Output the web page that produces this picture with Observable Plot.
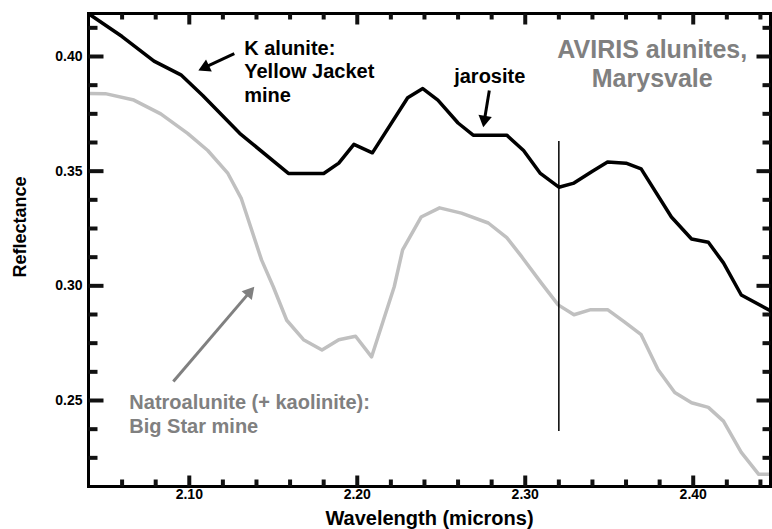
<!DOCTYPE html>
<html><head><meta charset="utf-8">
<script src="https://cdn.jsdelivr.net/npm/d3@7"></script>
<script src="https://cdn.jsdelivr.net/npm/@observablehq/plot@0.6"></script>
<style>body{margin:0;background:#fff}</style>
</head><body><div id="chart"></div>
<script>
// K alunite: Yellow Jacket mine (black)
const kWave = [2.040, 2.060, 2.079, 2.095, 2.108, 2.130, 2.159, 2.180, 2.189, 2.198, 2.209, 2.230, 2.239, 2.248, 2.260, 2.269, 2.289, 2.299, 2.309, 2.320, 2.329, 2.340, 2.349, 2.360, 2.369, 2.387, 2.399, 2.409, 2.418, 2.4286, 2.447];
const kRefl = [0.4187, 0.4087, 0.398, 0.392, 0.383, 0.3665, 0.349, 0.349, 0.3535, 0.3617, 0.358, 0.382, 0.386, 0.381, 0.371, 0.3657, 0.3657, 0.359, 0.349, 0.343, 0.3448, 0.350, 0.354, 0.3535, 0.351, 0.330, 0.3204, 0.319, 0.310, 0.296, 0.2887];
// Natroalunite (+ kaolinite): Big Star mine (grey)
const naWave = [2.040, 2.050, 2.067, 2.083, 2.099, 2.111, 2.123, 2.131, 2.143, 2.150, 2.158, 2.168, 2.179, 2.189, 2.199, 2.2085, 2.222, 2.227, 2.238, 2.249, 2.262, 2.278, 2.289, 2.298, 2.3095, 2.3196, 2.329, 2.339, 2.349, 2.359, 2.369, 2.379, 2.389, 2.399, 2.409, 2.418, 2.4286, 2.439, 2.447];
const naRefl = [0.3839, 0.3838, 0.381, 0.375, 0.3665, 0.359, 0.349, 0.338, 0.3113, 0.2996, 0.285, 0.2765, 0.272, 0.2765, 0.278, 0.2690, 0.2996, 0.3157, 0.330, 0.334, 0.3317, 0.3274, 0.321, 0.3126, 0.3013, 0.2917, 0.2874, 0.2896, 0.2896, 0.2843, 0.2787, 0.2635, 0.2535, 0.249, 0.247, 0.241, 0.2274, 0.2178, 0.2178];

const xMajor = [2.10, 2.20, 2.30, 2.40];
const xMinor = [2.06, 2.08, 2.12, 2.14, 2.16, 2.18, 2.22, 2.24, 2.26, 2.28, 2.32, 2.34, 2.36, 2.38, 2.42, 2.44];
const yMajor = [0.25, 0.30, 0.35, 0.40];
const yMinor = [0.225, 0.2375, 0.2625, 0.275, 0.2875, 0.3125, 0.325, 0.3375, 0.3625, 0.375, 0.3875, 0.4125];

const xLabel = "Wavelength (microns)";
const yLabel = "Reflectance";
const titleText = ["AVIRIS alunites,\nMarysvale"];
const markerWave = [2.32];

// annotations (data coordinates)
const notes = [
  {x: 2.1327, y: 0.4083, text: "K alunite:\nYellow Jacket\nmine", color: "black"},
  {x: 2.2577, y: 0.3960, text: "jarosite", color: "black"},
  {x: 2.0643, y: 0.2539, text: "Natroalunite (+ kaolinite):\nBig Star mine", color: "#808080"}
];
const arrowsData = [
  {x1: 2.1268, y1: 0.4013, x2: 2.1054, y2: 0.3939, color: "black"},
  {x1: 2.2786, y1: 0.3852, x2: 2.2750, y2: 0.3691, color: "black"},
  {x1: 2.0905, y1: 0.2583, x2: 2.1387, y2: 0.2996, color: "#808080"}
];

const W = 772, H = 529, ml = 88, mr = 2, mt = 13, mb = 43;
const fw = W - ml - mr, fh = H - mt - mb;
const xDomain = [2.04, 2.446], yDomain = [0.2125, 0.41875];
const sx = Plot.scale({x: {domain: xDomain, range: [ml, W - mr]}});
const sy = Plot.scale({y: {domain: yDomain, range: [H - mb, mt]}});

const kData = kWave.map((w, i) => ({w, r: kRefl[i]}));
const naData = naWave.map((w, i) => ({w, r: naRefl[i]}));

// inward tick segments: pixel lengths converted to data units
const xLo = xDomain[0], xHi = xDomain[1], yLo = yDomain[0], yHi = yDomain[1];
const xPerPx = (xHi - xLo) / fw, yPerPx = (yHi - yLo) / fh;
const tickSegs = [];
for (const v of xMajor) { tickSegs.push({a: v, b: v, c: yLo, d: yLo + 11 * yPerPx}); tickSegs.push({a: v, b: v, c: yHi, d: yHi - 11 * yPerPx}); }
for (const v of xMinor) { tickSegs.push({a: v, b: v, c: yLo, d: yLo + 7 * yPerPx}); tickSegs.push({a: v, b: v, c: yHi, d: yHi - 6 * yPerPx}); }
for (const v of yMajor) { tickSegs.push({a: xLo, b: xLo + 15 * xPerPx, c: v, d: v}); tickSegs.push({a: xHi, b: xHi - 14 * xPerPx, c: v, d: v}); }
for (const v of yMinor) { tickSegs.push({a: xLo, b: xLo + 9 * xPerPx, c: v, d: v}); tickSegs.push({a: xHi, b: xHi - 8 * xPerPx, c: v, d: v}); }

// arrow heads as rotated triangles
const headR = 5;
const heads = arrowsData.map(a => {
  const px1 = sx.apply(a.x1), py1 = sy.apply(a.y1), px2 = sx.apply(a.x2), py2 = sy.apply(a.y2);
  const dx = px2 - px1, dy = py2 - py1, len = Math.hypot(dx, dy);
  const ux = dx / len, uy = dy / len;
  const yy = Math.sqrt(headR * headR * Math.PI / (Math.sqrt(3) * 3));
  const cx = px2 - ux * 2 * yy, cy = py2 - uy * 2 * yy;
  const bx = px2 - ux * 3 * yy, by = py2 - uy * 3 * yy;
  return {
    cx: sx.invert(cx), cy: sy.invert(cy),
    bx: sx.invert(bx + ux * 1), by: sy.invert(by + uy * 1),
    x1: a.x1, y1: a.y1,
    angle: Math.atan2(dy, dx) * 180 / Math.PI + 90,
    color: a.color
  };
});

const font = "'Liberation Sans', Arial, Helvetica, sans-serif";

const chart = Plot.plot({
  width: W, height: H,
  marginLeft: ml, marginRight: mr, marginTop: mt, marginBottom: mb,
  x: {domain: xDomain},
  y: {domain: yDomain},
  style: {fontFamily: font, fontSize: "14px", fontWeight: "bold", background: "white", color: "black"},
  marks: [
    // tick labels
    Plot.axisX({anchor: "bottom", ticks: xMajor, tickSize: 0, tickPadding: 3, tickFormat: d3.format(".2f"), label: null, fontSize: 14, fontWeight: "bold"}),
    Plot.axisY({anchor: "left", ticks: yMajor, tickSize: 0, tickPadding: 6, tickFormat: d3.format(".2f"), label: null, fontSize: 14, fontWeight: "bold"}),
    // axis titles
    Plot.text([xLabel], {frameAnchor: "bottom", text: d => d, lineAnchor: "top", dy: 24, fontSize: 20, fontWeight: "bold", fill: "black"}),
    Plot.text([yLabel], {frameAnchor: "left", text: d => d, rotate: -90, lineAnchor: "top", textAnchor: "middle", dx: -75, dy: -23, fontSize: 18, fontWeight: "bold", fill: "black"}),
    // data
    Plot.line(naData, {x: "w", y: "r", stroke: "#c0c0c0", strokeWidth: 3.5, clip: true}),
    Plot.line(kData, {x: "w", y: "r", stroke: "black", strokeWidth: 3.5, clip: true}),
    Plot.ruleX(markerWave, {y1: 0.2365, y2: 0.3629, stroke: "black", strokeWidth: 1.5}),
    // arrows
    Plot.link(heads, {x1: "x1", y1: "y1", x2: "bx", y2: "by", stroke: "color", strokeWidth: 3}),
    Plot.dot(heads, {x: "cx", y: "cy", symbol: "triangle", r: headR, rotate: "angle", fill: "color", stroke: "none"}),
    // annotations
    Plot.text(notes, {x: "x", y: "y", text: "text", fill: "color", textAnchor: "start", lineAnchor: "top", lineHeight: 1.2, fontSize: 20, fontWeight: "bold"}),
    Plot.text(titleText, {x: 2.3756, y: 0.4083, text: d => d, fill: "#808080", textAnchor: "middle", lineAnchor: "top", lineHeight: 1.15, fontSize: 25, fontWeight: "bold"}),
    Plot.frame({stroke: "black", strokeWidth: 3}),
    // inward ticks
    Plot.link(tickSegs, {x1: "a", x2: "b", y1: "c", y2: "d", stroke: "#111111", strokeWidth: 4, strokeLinecap: "butt"})
  ]
});
document.getElementById("chart").appendChild(chart);
</script>
</body></html>
